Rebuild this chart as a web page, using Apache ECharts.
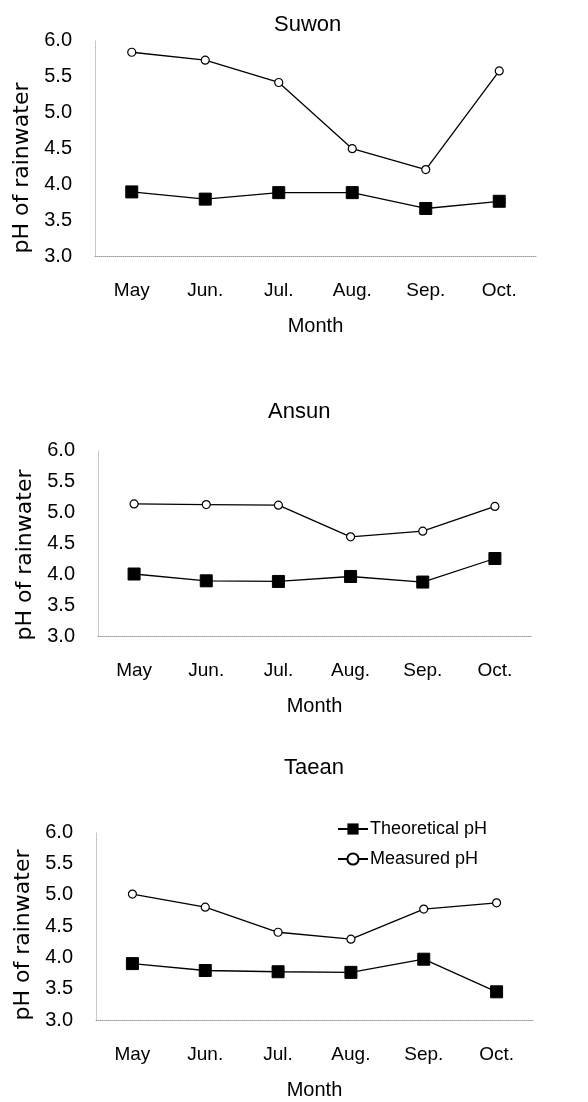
<!DOCTYPE html>
<html>
<head>
<meta charset="utf-8">
<script src="https://cdn.jsdelivr.net/npm/echarts@6/dist/echarts.min.js"></script>
<style>
html,body{margin:0;padding:0;background:#fff;}
#chart{width:588px;height:1102px;}
</style>
</head>
<body>
<div id="chart"></div>
<script>
const categories = ['May', 'Jun.', 'Jul.', 'Aug.', 'Sep.', 'Oct.'];
const yTicks = ['3.0', '3.5', '4.0', '4.5', '5.0', '5.5', '6.0'];
const panelTitles = ['Suwon', 'Ansun', 'Taean'];
const seriesNames = ['Theoretical pH', 'Measured pH'];

const suwonTheoretical = [3.89, 3.79, 3.88, 3.88, 3.66, 3.76];
const suwonMeasured = [5.83, 5.72, 5.41, 4.49, 4.20, 5.57];
const ansunTheoretical = [4.00, 3.89, 3.88, 3.96, 3.87, 4.25];
const ansunMeasured = [5.13, 5.12, 5.11, 4.60, 4.69, 5.09];
const taeanTheoretical = [3.90, 3.79, 3.77, 3.76, 3.97, 3.45];
const taeanMeasured = [5.01, 4.80, 4.40, 4.29, 4.77, 4.87];

const theoretical = [suwonTheoretical, ansunTheoretical, taeanTheoretical];
const measured = [suwonMeasured, ansunMeasured, taeanMeasured];

const SANS = "'Liberation Sans', Arial, sans-serif";

const grids = [
  {left: 95, top: 40, width: 441, height: 216},
  {left: 98, top: 450, width: 433, height: 186},
  {left: 96, top: 832, width: 437, height: 188}
];
const titlePos = [{left: 274, top: 14}, {left: 268, top: 401}, {left: 284, top: 757}];
const namePad = [[0, 40, 0, 0], [0, 24, 0, 0], [0, 18, 0, 0]];

const chart = echarts.init(document.getElementById('chart'), null, {renderer: 'canvas'});

const option = {
  backgroundColor: '#fff',
  animation: false,
  title: panelTitles.map((t, i) => ({
    text: t, left: titlePos[i].left, top: titlePos[i].top, padding: 0,
    textStyle: {fontFamily: SANS, fontSize: 22, fontWeight: 'normal', color: '#000'}
  })),
  legend: {
    data: seriesNames,
    orient: 'vertical',
    left: 332, top: 815,
    itemWidth: 30, itemHeight: 14, itemGap: 12,
    textStyle: {fontFamily: SANS, fontSize: 18, color: '#000', padding: [0, 0, 0, -3]}
  },
  grid: grids,
  xAxis: grids.map((g, i) => ({
    type: 'category', gridIndex: i, data: categories, boundaryGap: true,
    name: 'Month', nameLocation: 'middle', nameGap: 60,
    nameTextStyle: {fontFamily: SANS, fontSize: 20, color: '#000'},
    axisLine: {show: true, lineStyle: {color: '#999', type: 'dotted', width: 1}},
    axisTick: {show: false},
    axisLabel: {margin: 25, fontFamily: SANS, fontSize: 19, color: '#000'},
    splitLine: {show: false}
  })),
  yAxis: grids.map((g, i) => ({
    type: 'value', gridIndex: i, min: 3, max: 6, interval: 0.5,
    name: 'pH of rainwater', nameLocation: 'middle', nameGap: 62,
    nameTextStyle: {fontFamily: "'DejaVu Sans', sans-serif", fontSize: 22, color: '#000', padding: namePad[i]},
    axisLine: {show: true, lineStyle: {color: '#bbb', type: 'dotted', width: 1}},
    axisTick: {show: false},
    axisLabel: {margin: 23, fontFamily: SANS, fontSize: 20, color: '#000',
      formatter: v => yTicks[Math.round((v - 3) / 0.5)]},
    splitLine: {show: false}
  })),
  series: []
};

for (let i = 0; i < 3; i++) {
  option.series.push({
    name: seriesNames[0], type: 'line', xAxisIndex: i, yAxisIndex: i,
    data: theoretical[i], symbol: 'rect', symbolSize: 12,
    itemStyle: {color: '#000', borderColor: '#000'},
    lineStyle: {color: '#000', width: 1.3}
  });
  option.series.push({
    name: seriesNames[1], type: 'line', xAxisIndex: i, yAxisIndex: i,
    data: measured[i], symbol: 'circle', symbolSize: 8,
    itemStyle: {color: '#fff', borderColor: '#000', borderWidth: 1.2},
    lineStyle: {color: '#000', width: 1.3}
  });
}

chart.setOption(option);
</script>
</body>
</html>
